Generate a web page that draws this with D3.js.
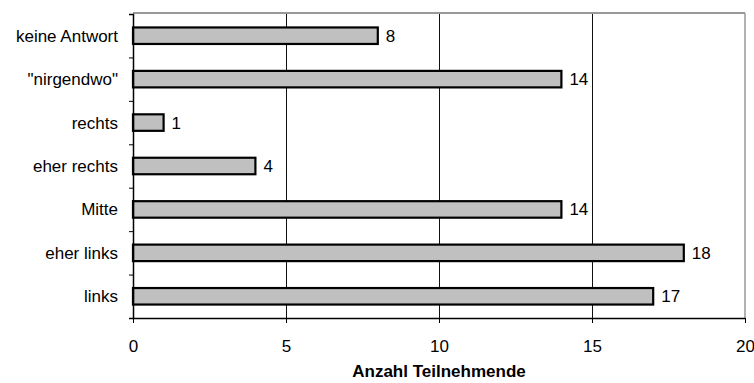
<!DOCTYPE html>
<meta charset="utf-8">
<html>
<script src="https://d3js.org/d3.v7.min.js"></script>
<style>
    body { margin: 0; background: #fff; }
    text { font-family: "Liberation Sans", Arial, sans-serif; }
</style>
<body>
<div id="chart"></div>
<script>
    // data (top to bottom)
    var categories = ["keine Antwort", "\"nirgendwo\"", "rechts", "eher rechts", "Mitte", "eher links", "links"];
    var counts = [8, 14, 1, 4, 14, 18, 17];
    var xTicks = [0, 5, 10, 15, 20];
    var xTitle = "Anzahl Teilnehmende";

    var margin = { top: 14, right: 9, bottom: 65, left: 133 },
        width = 754 - margin.left - margin.right,
        height = 383 - margin.top - margin.bottom;

    var svg = d3.select("#chart")
        .append("svg")
        .attr("width", 754)
        .attr("height", 383)
        .append("g")
        .attr("transform", "translate(" + margin.left + "," + margin.top + ")");

    var x = d3.scaleLinear().domain([0, 20]).range([0, width]);
    var y = d3.scaleBand()
        .domain(categories)
        .range([0, height])
        .paddingInner(0.62)
        .paddingOuter(0.31);
    // band edges for the tick marks between categories
    var yEdge = d3.scaleLinear().domain([0, categories.length]).range([0, height]);

    // grid lines
    svg.selectAll(".grid")
        .data(xTicks.filter(function (d) { return d > 0 && d < 20; }))
        .enter().append("line")
        .attr("x1", function (d) { return x(d) + 0.5; })
        .attr("x2", function (d) { return x(d) + 0.5; })
        .attr("y1", 0)
        .attr("y2", height)
        .attr("stroke", "#111")
        .attr("stroke-width", 1);

    // grey frame top and right
    svg.append("line")
        .attr("x1", 0).attr("x2", width)
        .attr("y1", -1).attr("y2", -1)
        .attr("stroke", "#999").attr("stroke-width", 2);
    svg.append("line")
        .attr("x1", width).attr("x2", width)
        .attr("y1", -1).attr("y2", height)
        .attr("stroke", "#999").attr("stroke-width", 1.5);

    // bars
    svg.selectAll(".bar")
        .data(counts)
        .enter().append("rect")
        .attr("x", x(0))
        .attr("y", function (d, i) { return y(categories[i]); })
        .attr("width", function (d) { return x(d) - x(0); })
        .attr("height", y.bandwidth())
        .attr("fill", "#c0c0c0")
        .attr("stroke", "#000")
        .attr("stroke-width", 2.2);

    // value labels
    svg.selectAll(".val")
        .data(counts)
        .enter().append("text")
        .attr("x", function (d) { return x(d) + 8; })
        .attr("y", function (d, i) { return y(categories[i]) + y.bandwidth() / 2; })
        .attr("dy", "0.35em")
        .style("font-size", "17px")
        .attr("fill", "#000")
        .text(function (d) { return d; });

    // Y axis: tick marks at band edges, labels at band centres
    var yAxis = svg.append("g")
        .call(d3.axisLeft(yEdge).ticks(categories.length).tickSize(4).tickFormat(""));
    yAxis.select(".domain").attr("stroke-width", 1.5);

    svg.selectAll(".cat")
        .data(categories)
        .enter().append("text")
        .attr("x", -15)
        .attr("y", function (d) { return y(d) + y.bandwidth() / 2; })
        .attr("dy", "0.35em")
        .attr("text-anchor", "end")
        .style("font-size", "17px")
        .text(function (d) { return d; });

    // X axis
    var xAxis = svg.append("g")
        .attr("transform", "translate(0," + height + ")")
        .call(d3.axisBottom(x).tickValues(xTicks).tickSize(5).tickPadding(17).tickSizeOuter(0));
    xAxis.select(".domain").attr("stroke-width", 1.5);
    xAxis.selectAll("text").style("font-size", "17px").attr("fill", "#000");
    xAxis.selectAll("line").attr("stroke", "#000");

    // X axis title
    svg.append("text")
        .attr("x", width / 2)
        .attr("y", height + 59)
        .attr("text-anchor", "middle")
        .style("font-size", "17px")
        .style("font-weight", "bold")
        .text(xTitle);
</script>
</body>
</html>
